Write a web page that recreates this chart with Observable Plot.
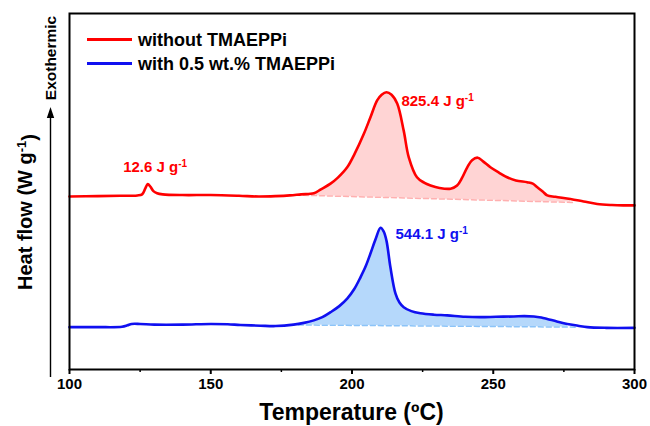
<!DOCTYPE html>
<html><head><meta charset="utf-8">
<script src="https://cdn.jsdelivr.net/npm/d3@7"></script>
<script src="https://cdn.jsdelivr.net/npm/@observablehq/plot@0.6"></script>
<style>body{margin:0;background:#fff;} #chart{width:650px;height:426px;}</style>
</head><body><div id="chart"></div>
<script>
// ---- data ----
const redT  = [100,110,118,124,125.7,126.8,127.7,128.6,129.7,131,133,140,150,160,167,173,178,182,186.5,189,192.4,195,198.3,201,204.2,206.5,208.9,210.5,212.2,214,216,218.3,220.1,223,225.5,227.8,231,234.9,237.2,239,240.8,242.5,244.5,246.5,249,252,254.9,258,262,264,265.6,267.5,269.1,272,277.3,282,286.8,292,296,300];
const redHF = [4.86,4.87,4.88,4.89,4.92,5.08,5.21,5.14,5.01,4.95,4.92,4.90,4.90,4.88,4.86,4.87,4.89,4.92,4.95,5.06,5.22,5.39,5.68,6.07,6.62,7.08,7.56,7.72,7.79,7.72,7.47,6.71,5.96,5.40,5.25,5.17,5.10,5.08,5.17,5.39,5.68,5.88,5.95,5.84,5.68,5.53,5.40,5.31,5.26,5.22,5.12,5.00,4.89,4.85,4.79,4.72,4.65,4.62,4.61,4.61];
const blueT  = [100,110,118.6,120.5,122,125,130,140,150,156,160.5,167.6,173,179.3,183,186.5,189.5,192.4,195.5,198.3,200.8,203,204.8,206.5,208.3,210.1,211.2,212.2,213.6,215.4,216.8,218.3,221,224.2,229,233.7,240,245.5,251,257.3,261,264.4,267,269.1,272.5,276.2,280,283.3,290,300];
const blueHF = [1.19,1.19,1.20,1.24,1.28,1.28,1.26,1.26,1.28,1.27,1.25,1.23,1.22,1.26,1.31,1.38,1.47,1.61,1.78,1.99,2.26,2.59,2.89,3.25,3.65,3.98,3.88,3.62,2.87,2.13,1.88,1.75,1.64,1.58,1.54,1.52,1.48,1.47,1.48,1.49,1.50,1.49,1.46,1.42,1.35,1.28,1.23,1.19,1.17,1.17];
// integration baselines (start/end)
const redBaseT = [180, 279], redBaseHF = [4.90, 4.69];
const blueBaseT = [181, 279], blueBaseHF = [1.25, 1.19];
// enthalpy labels
const labelText = ["12.6 J g", "825.4 J g", "544.1 J g"];
const labelT    = [119, 217.5, 215.4];
const labelHF   = [5.54, 7.39, 3.67];
const labelSeries = ["red", "red", "blue"];
const xTicks = [100, 150, 200, 250, 300];
const xMinorTicks = [125, 175, 225, 275];
const seriesNames = ["without TMAEPPi", "with 0.5 wt.% TMAEPPi"];

const COL = {red: "#ff0000", blue: "#1010f0"};
const FILL = {red: "#ffd4d4", blue: "#b5d8fb"};
const BASE = {red: "#ffb0b0", blue: "#8cc4f8"};
const FONT = "'Liberation Sans', Arial, Helvetica, sans-serif";

function series(T, H) { return T.map((t, i) => ({t, v: H[i]})); }
function withBase(T, H, bT, bH) {
  return series(T, H).filter(d => d.t >= bT[0] && d.t <= bT[1]).map(d => ({
    t: d.t, v: d.v, b: bH[0] + (bH[1] - bH[0]) * (d.t - bT[0]) / (bT[1] - bT[0])
  }));
}
const red = series(redT, redHF), blue = series(blueT, blueHF);
const redFill = withBase(redT, redHF, redBaseT, redBaseHF);
const blueFill = withBase(blueT, blueHF, blueBaseT, blueBaseHF);
const labels = labelText.map((s, i) => ({s, t: labelT[i], v: labelHF[i], c: COL[labelSeries[i]]}));

const plot = Plot.plot({
  width: 650, height: 426,
  marginLeft: 69, marginRight: 16, marginTop: 13, marginBottom: 57,
  style: {fontFamily: FONT, background: "#fff"},
  x: {domain: [100, 300], axis: null},
  y: {domain: [0, 10], axis: null},
  marks: [
    Plot.areaY(redFill, {x: "t", y1: "b", y2: "v", fill: FILL.red, curve: "catmull-rom"}),
    Plot.areaY(blueFill, {x: "t", y1: "b", y2: "v", fill: FILL.blue, curve: "catmull-rom"}),
    Plot.line(series(redBaseT, redBaseHF), {x: "t", y: "v", stroke: BASE.red, strokeWidth: 1.5, strokeDasharray: "5,3"}),
    Plot.line(series(blueBaseT, blueBaseHF), {x: "t", y: "v", stroke: BASE.blue, strokeWidth: 1.5, strokeDasharray: "5,3"}),
    Plot.line(red, {x: "t", y: "v", stroke: COL.red, strokeWidth: 2.6, curve: "catmull-rom"}),
    Plot.line(blue, {x: "t", y: "v", stroke: COL.blue, strokeWidth: 2.6, curve: "catmull-rom"}),
    Plot.text(labels, {x: "t", y: "v", text: "s", fill: "c", textAnchor: "start", lineAnchor: "bottom",
      fontSize: 15, fontWeight: "bold"}),
    Plot.axisX({ticks: xTicks, tickSize: 5, tickPadding: 4, strokeWidth: 2, fontSize: 15, fontWeight: "bold", fill: "#000", label: null}),
    Plot.axisX({ticks: xMinorTicks, tickSize: 3, strokeWidth: 1.5, text: null, label: null}),
    Plot.frame({stroke: "#000", strokeWidth: 2})
  ]
});
document.getElementById("chart").appendChild(plot);

const svg = d3.select(plot);
// superscripts on enthalpy labels
svg.selectAll("text").filter(function() { return / J g$/.test(this.textContent); })
  .each(function() {
    d3.select(this).append("tspan").attr("dy", "-0.5em").attr("font-size", 10).text("-1");
  });

// legend
const leg = svg.append("g").attr("font-family", FONT).attr("font-weight", "bold")
  .attr("font-size", 18).attr("text-anchor", "start");
[["red", 0], ["blue", 1]].forEach(([k, i]) => {
  const y = 39.5 + i * 24;
  leg.append("line").attr("x1", 87).attr("x2", 132).attr("y1", y).attr("y2", y)
    .attr("stroke", COL[k]).attr("stroke-width", 3);
  leg.append("text").attr("x", 138).attr("y", y + 6.3).attr("fill", "#000").text(seriesNames[i]);
});

// exothermic arrow
const ann = svg.append("g").attr("font-family", FONT).attr("font-weight", "bold");
ann.append("line").attr("x1", 50.5).attr("x2", 50.5).attr("y1", 377).attr("y2", 116)
  .attr("stroke", "#000").attr("stroke-width", 1.4);
ann.append("path").attr("d", "M50.5,107 L46.8,118 L54.2,118 Z").attr("fill", "#000");
ann.append("text").attr("transform", "translate(56,58) rotate(-90)").attr("text-anchor", "middle")
  .attr("font-size", 15.5).attr("fill", "#000").text("Exothermic");

// y label
const yl = ann.append("text").attr("transform", "translate(32,212) rotate(-90)").attr("text-anchor", "middle")
  .attr("font-size", 20).attr("fill", "#000");
yl.append("tspan").text("Heat flow (W g");
yl.append("tspan").attr("dy", "-0.5em").attr("font-size", 13).text("-1");
yl.append("tspan").attr("dy", "0.5em").text(")");

// x label
ann.append("text").attr("x", 351.5).attr("y", 420).attr("text-anchor", "middle")
  .attr("font-size", 23).attr("fill", "#000").text("Temperature (ºC)");
</script></body></html>
